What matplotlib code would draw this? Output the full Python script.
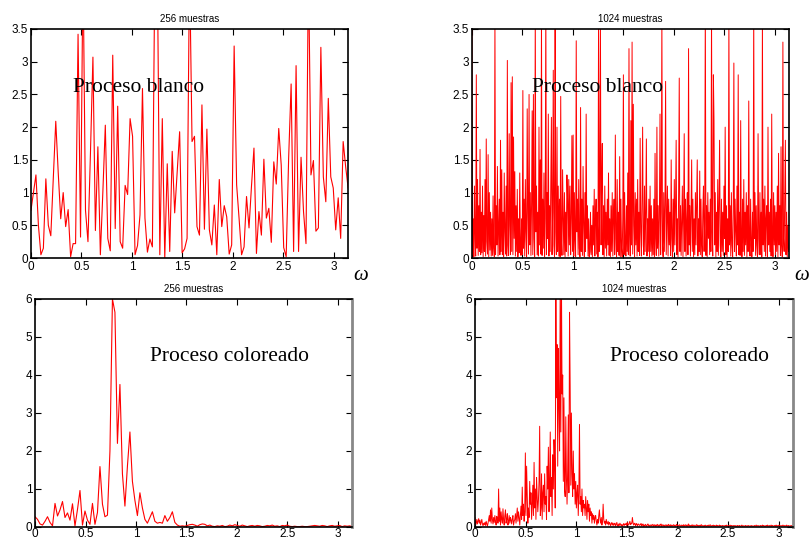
import matplotlib
matplotlib.use("Agg")
import matplotlib.pyplot as plt
from matplotlib.ticker import FuncFormatter
import numpy as np

# Periodogram values (omega from 0 to pi)
white_256 = [
    0.73, 1.0, 1.27, 0.5, 0.05, 0.15, 1.21, 0.5, 0.34, 1.2, 2.09, 1.3, 0.6, 1.0, 0.48, 0.74,
    0.02, 0.22, 0.22, 3.42, 0.32, 4.5, 0.73, 0.25, 1.6, 3.07, 0.42, 1.7, 0.05, 1.0, 2.03, 0.3,
    0.11, 3.1, 0.45, 2.32, 0.25, 0.15, 1.11, 0.97, 2.13, 1.86, 0.05, 0.19, 0.66, 2.59, 0.61, 0.09,
    0.29, 0.17, 4.5, 4.5, 0.05, 2.13, 0.0, 1.44, 0.1, 1.63, 0.69, 1.3, 1.93, 0.08, 0.14, 0.3,
    4.5, 1.78, 1.86, 0.48, 0.35, 2.34, 0.44, 1.97, 0.43, 0.2, 0.81, 0.05, 1.2, 0.48, 0.8, 0.63,
    0.06, 0.2, 3.24, 1.12, 0.6, 0.05, 0.17, 0.94, 0.46, 1.1, 1.68, 0.07, 0.71, 0.35, 1.51, 0.61,
    0.76, 0.24, 1.47, 1.13, 1.98, 1.42, 0.16, 0.02, 1.53, 2.66, 0.1, 2.94, 0.1, 1.54, 0.71, 0.22,
    4.5, 1.27, 1.49, 0.41, 0.46, 3.22, 1.24, 0.86, 2.44, 1.24, 1.07, 0.43, 0.92, 0.3, 1.78, 1.4,
    1.07,
]

white_1024 = [
    3.8, 0.05, 0.6, 0.02, 1.1, 0.3, 0.03, 2.8, 0.15, 1.2, 0.04, 0.8, 0.1, 1.66, 0.05, 0.7,
    0.08, 1.1, 0.02, 0.65, 0.1, 1.2, 0.03, 1.82, 0.25, 0.06, 1.58, 0.02, 1.0, 0.12, 0.7, 0.03,
    0.6, 0.04, 0.95, 0.15, 0.02, 3.7, 0.05, 0.8, 0.2, 1.4, 0.03, 0.5, 0.9, 0.05, 1.8, 0.1,
    1.35, 0.05, 0.7, 0.02, 1.3, 0.4, 0.06, 1.1, 0.03, 3.02, 0.2, 0.04, 1.9, 0.5, 0.05, 2.68,
    0.1, 2.77, 0.05, 1.85, 0.3, 1.32, 0.03, 0.8, 0.1, 1.05, 0.02, 0.6, 0.08, 1.3, 0.2, 0.04,
    0.6, 0.05, 2.56, 0.15, 0.9, 0.03, 1.2, 0.4, 0.02, 2.28, 0.7, 0.06, 2.5, 0.2, 1.0, 0.04,
    0.8, 2.25, 0.05, 2.5, 0.3, 0.02, 3.8, 0.4, 1.1, 0.05, 0.7, 0.03, 2.0, 0.2, 1.5, 0.06,
    3.7, 0.04, 0.9, 0.15, 1.3, 0.02, 0.6, 3.9, 0.05, 1.0, 0.3, 2.2, 0.03, 0.8, 0.1, 1.2,
    2.15, 0.05, 0.7, 2.87, 0.2, 0.02, 4.0, 0.4, 0.05, 2.0, 0.1, 1.1, 0.03, 0.9, 0.02, 2.47,
    0.3, 0.04, 1.35, 0.6, 0.05, 1.0, 0.02, 0.7, 0.1, 1.27, 0.9, 0.03, 1.2, 0.2, 1.1, 0.05,
    0.6, 1.87, 0.1, 1.88, 0.03, 1.0, 0.3, 0.02, 3.32, 0.4, 0.9, 0.05, 1.2, 0.15, 0.02, 2.3,
    0.1, 0.9, 0.04, 1.4, 0.5, 0.02, 1.0, 0.1, 2.2, 0.3, 0.8, 0.03, 0.6, 0.02, 0.1, 0.7,
    0.05, 0.5, 0.02, 0.8, 0.2, 1.05, 0.03, 0.6, 0.9, 0.06, 0.7, 0.02, 3.8, 0.1, 1.0, 3.6,
    0.2, 1.2, 1.75, 0.05, 0.8, 0.02, 1.1, 0.15, 0.7, 0.03, 0.9, 0.2, 1.3, 0.04, 0.6, 0.02,
    0.8, 0.1, 1.0, 0.03, 0.6, 0.9, 0.05, 1.88, 0.3, 0.02, 1.2, 0.1, 0.7, 0.04, 1.55, 0.02,
    0.9, 0.15, 0.02, 0.6, 2.8, 0.05, 1.0, 0.2, 0.03, 0.8, 0.1, 1.3, 0.05, 3.2, 0.4, 0.03,
    2.1, 0.2, 3.3, 0.06, 2.35, 0.5, 0.02, 1.0, 0.2, 0.9, 0.03, 1.2, 0.1, 0.7, 0.04, 1.83,
    0.4, 0.03, 0.9, 2.0, 0.2, 0.05, 1.1, 0.1, 0.7, 1.82, 0.03, 0.6, 0.1, 0.9, 0.02, 1.1,
    0.1, 0.8, 0.03, 0.6, 0.05, 0.9, 0.02, 1.6, 0.3, 0.04, 2.0, 0.15, 0.8, 0.03, 0.6, 2.2,
    0.05, 0.7, 3.7, 0.2, 0.02, 1.0, 0.1, 0.8, 2.7, 0.05, 0.6, 1.1, 0.03, 0.9, 0.2, 0.7,
    0.04, 1.5, 0.3, 0.02, 0.9, 0.1, 1.2, 0.2, 0.8, 1.8, 0.05, 0.6, 0.02, 1.0, 2.75, 0.1,
    0.8, 0.04, 0.6, 1.1, 0.02, 0.7, 1.9, 0.1, 0.9, 0.03, 0.6, 1.0, 0.05, 3.2, 0.2, 0.8,
    0.03, 0.7, 1.5, 0.1, 0.9, 0.02, 0.6, 0.05, 1.0, 0.2, 0.8, 1.5, 0.03, 0.6, 0.1, 1.33,
    0.05, 0.9, 0.2, 0.02, 0.7, 1.1, 0.1, 0.6, 3.9, 0.04, 0.8, 0.02, 1.0, 0.3, 0.7, 0.05,
    0.9, 0.1, 3.8, 0.4, 0.03, 2.8, 2.1, 0.2, 1.0, 0.02, 0.7, 0.1, 1.2, 0.04, 0.8, 1.8,
    0.2, 0.02, 0.9, 0.1, 0.7, 0.04, 1.1, 0.3, 2.0, 0.05, 0.8, 0.02, 0.6, 0.1, 3.7, 0.2,
    0.8, 0.03, 1.0, 0.2, 0.02, 0.7, 2.98, 0.1, 0.9, 0.4, 0.03, 1.1, 0.2, 2.8, 0.05, 0.7,
    0.04, 2.1, 0.3, 0.02, 0.9, 0.1, 1.2, 0.04, 0.7, 0.2, 1.0, 0.02, 0.8, 0.1, 2.4, 0.3,
    0.03, 0.9, 0.2, 0.02, 0.7, 0.1, 3.8, 0.3, 1.0, 0.04, 0.8, 0.2, 0.02, 1.9, 0.3, 0.05,
    1.0, 0.05, 0.7, 0.02, 3.7, 0.2, 0.9, 0.1, 1.1, 0.03, 0.6, 0.8, 0.02, 2.0, 0.2, 0.7,
    0.1, 0.9, 0.03, 2.2, 0.3, 0.02, 1.0, 0.2, 0.8, 0.05, 0.7, 0.1, 1.1, 0.02, 1.6, 0.2,
    0.8, 0.04, 1.7, 0.2, 0.02, 3.3, 0.3, 0.1, 0.9, 1.8, 0.05, 0.7, 0.02, 0.5, 0.1, 0.1,
]

colored_256 = [
    0.27, 0.2, 0.08, 0.05, 0.15, 0.27, 0.12, 0.03, 0.62, 0.29, 0.45, 0.67, 0.25, 0.37, 0.18, 0.61,
    0.03, 0.46, 0.96, 0.05, 0.42, 0.18, 0.07, 0.62, 0.07, 0.38, 1.59, 0.6, 0.27, 0.31, 2.0, 6.0,
    5.65, 2.2, 3.75, 1.4, 0.55, 1.6, 2.5, 1.2, 0.7, 0.3, 0.9, 0.5, 0.2, 0.1, 0.25, 0.4,
    0.15, 0.1, 0.12, 0.1, 0.3, 0.15, 0.25, 0.4, 0.12, 0.05, 0.02, 0.03, 0.02, 0.04, 0.06, 0.07,
    0.05, 0.02, 0.06, 0.08, 0.07, 0.03, 0.05, 0.02, 0.01, 0.03, 0.02, 0.04, 0.01, 0.02, 0.05, 0.03,
    0.06, 0.04, 0.02, 0.05, 0.03, 0.01, 0.03, 0.04, 0.02, 0.04, 0.03, 0.01, 0.02, 0.04, 0.03, 0.05,
    0.02, 0.03, 0.01, 0.04, 0.03, 0.05, 0.02, 0.01, 0.02, 0.01, 0.01, 0.02, 0.01, 0.01, 0.02, 0.03,
    0.04, 0.03, 0.02, 0.04, 0.03, 0.01, 0.03, 0.04, 0.02, 0.03, 0.04, 0.01, 0.03, 0.02, 0.03, 0.01,
]

colored_1024 = [
    0.25, 0.05, 0.1, 0.2, 0.08, 0.15, 0.22, 0.1, 0.18, 0.05, 0.12, 0.2, 0.08, 0.03, 0.1, 0.06,
    0.12, 0.04, 0.15, 0.08, 0.02, 0.1, 0.2, 0.3, 0.15, 0.45, 0.1, 0.5, 0.2, 0.08, 0.25, 0.12,
    0.3, 0.15, 0.05, 0.28, 0.2, 0.1, 1.0, 0.15, 0.5, 0.05, 0.4, 0.2, 0.1, 0.48, 0.18, 0.05,
    0.3, 0.45, 0.1, 0.2, 0.35, 0.05, 0.15, 0.3, 0.1, 0.25, 0.18, 0.08, 0.22, 0.3, 0.05, 0.15,
    0.2, 0.35, 0.1, 0.3, 0.5, 0.15, 0.4, 0.25, 0.05, 0.3, 0.55, 0.2, 1.05, 0.3, 0.6, 0.15,
    0.4, 1.95, 0.3, 1.6, 0.8, 0.1, 0.5, 0.25, 1.2, 0.6, 0.9, 0.2, 0.6, 1.1, 0.3, 1.7,
    0.5, 1.0, 0.2, 1.3, 0.8, 0.4, 0.7, 1.2, 2.65, 0.3, 0.5, 1.4, 0.2, 0.9, 1.1, 0.4,
    1.4, 0.6, 0.8, 0.2, 1.6, 1.0, 2.1, 0.4, 1.2, 2.5, 0.8, 1.3, 0.3, 1.9, 1.0, 2.3,
    1.8, 0.5, 6.5, 3.4, 4.8, 1.6, 4.7, 3.2, 2.0, 6.5, 2.5, 6.5, 3.5, 4.0, 1.2, 3.4,
    1.0, 0.8, 2.9, 1.3, 0.6, 1.5, 2.95, 0.9, 5.65, 3.7, 1.1, 3.0, 1.4, 0.8, 2.0, 1.0,
    1.4, 0.6, 1.2, 0.5, 0.9, 1.1, 0.3, 0.9, 2.7, 0.6, 0.8, 0.4, 1.0, 0.3, 0.7, 0.5,
    0.6, 0.3, 0.8, 0.5, 0.2, 0.7, 0.4, 0.6, 0.15, 0.5, 0.3, 0.4, 0.1, 0.35, 0.2, 0.3,
    0.1, 0.25, 0.3, 0.15, 0.05, 0.2, 0.1, 0.3, 0.45, 0.2, 0.1, 0.25, 0.05, 0.15, 0.6, 0.2,
    0.1, 0.15, 0.05, 0.2, 0.1, 0.08, 0.15, 0.05, 0.12, 0.1, 0.03, 0.08, 0.12, 0.05, 0.1, 0.04,
    0.08, 0.1, 0.03, 0.06, 0.12, 0.05, 0.02, 0.08, 0.04, 0.1, 0.06, 0.03, 0.07, 0.02, 0.05, 0.09,
    0.04, 0.08, 0.06, 0.1, 0.03, 0.12, 0.07, 0.05, 0.1, 0.15, 0.06, 0.1, 0.08, 0.25, 0.12, 0.05,
    0.08, 0.1, 0.04, 0.07, 0.09, 0.03, 0.06, 0.08, 0.05, 0.04, 0.07, 0.09, 0.03, 0.05, 0.08, 0.02,
    0.05, 0.03, 0.07, 0.04, 0.02, 0.06, 0.08, 0.03, 0.05, 0.02, 0.04, 0.06, 0.03, 0.05, 0.07, 0.02,
    0.04, 0.06, 0.02, 0.05, 0.03, 0.07, 0.04, 0.02, 0.06, 0.03, 0.05, 0.08, 0.02, 0.04, 0.06, 0.03,
    0.05, 0.02, 0.04, 0.06, 0.03, 0.05, 0.02, 0.07, 0.04, 0.03, 0.06, 0.02, 0.05, 0.03, 0.04, 0.06,
    0.03, 0.05, 0.02, 0.04, 0.07, 0.03, 0.05, 0.02, 0.04, 0.06, 0.03, 0.02, 0.05, 0.04, 0.03, 0.06,
    0.02, 0.04, 0.06, 0.03, 0.05, 0.02, 0.04, 0.08, 0.03, 0.05, 0.02, 0.04, 0.03, 0.06, 0.02, 0.04,
    0.05, 0.03, 0.02, 0.04, 0.06, 0.03, 0.05, 0.02, 0.04, 0.03, 0.05, 0.02, 0.06, 0.04, 0.03, 0.02,
    0.04, 0.02, 0.05, 0.03, 0.02, 0.04, 0.03, 0.05, 0.02, 0.04, 0.06, 0.03, 0.02, 0.04, 0.03, 0.05,
    0.02, 0.04, 0.03, 0.02, 0.05, 0.03, 0.04, 0.02, 0.03, 0.05, 0.02, 0.04, 0.03, 0.02, 0.04, 0.03,
    0.03, 0.02, 0.04, 0.03, 0.05, 0.02, 0.03, 0.04, 0.02, 0.03, 0.05, 0.02, 0.04, 0.03, 0.02, 0.04,
    0.02, 0.03, 0.04, 0.02, 0.03, 0.02, 0.04, 0.03, 0.02, 0.04, 0.03, 0.02, 0.03, 0.05, 0.02, 0.03,
    0.03, 0.02, 0.03, 0.04, 0.02, 0.03, 0.02, 0.04, 0.03, 0.02, 0.03, 0.02, 0.04, 0.02, 0.03, 0.02,
    0.02, 0.04, 0.02, 0.03, 0.05, 0.02, 0.03, 0.04, 0.02, 0.03, 0.02, 0.04, 0.03, 0.02, 0.05, 0.03,
    0.04, 0.02, 0.03, 0.02, 0.04, 0.03, 0.05, 0.02, 0.03, 0.04, 0.02, 0.03, 0.05, 0.02, 0.04, 0.03,
    0.02, 0.03, 0.04, 0.02, 0.05, 0.03, 0.02, 0.04, 0.03, 0.05, 0.02, 0.03, 0.04, 0.02, 0.03, 0.05,
    0.03, 0.02, 0.04, 0.03, 0.02, 0.05, 0.03, 0.02, 0.04, 0.02, 0.03, 0.02, 0.04, 0.03, 0.02, 0.03,
]

titles = ["256 muestras", "1024 muestras", "256 muestras", "1024 muestras"]
labels = ["Proceso blanco", "Proceso blanco", "Proceso coloreado", "Proceso coloreado"]


def fmt(v, pos):
    return "%g" % v


fig = plt.figure(figsize=(8.09, 5.39), dpi=100)

boxes = [
    [0.0383, 0.5213, 0.392, 0.4249],
    [0.5834, 0.5213, 0.392, 0.4249],
    [0.0433, 0.0223, 0.392, 0.423],
    [0.5871, 0.0223, 0.393, 0.423],
]
series = [white_256, white_1024, colored_256, colored_1024]
ylims = [3.5, 3.5, 6, 6]
text_pos = [(0.416, 2.53), (0.595, 2.53), (1.14, 4.37), (1.33, 4.37)]

for k in range(4):
    ax = fig.add_axes(boxes[k])
    y = np.array(series[k])
    w = np.linspace(0, np.pi, len(y))
    ax.plot(w, y, color="red", linewidth=0.8 if k % 2 == 0 else 0.7)
    ax.set_xlim(0, np.pi)
    ax.set_ylim(0, ylims[k])
    ax.set_xticks([0, 0.5, 1, 1.5, 2, 2.5, 3])
    if ylims[k] == 3.5:
        ax.set_yticks([0, 0.5, 1, 1.5, 2, 2.5, 3, 3.5])
    else:
        ax.set_yticks([0, 1, 2, 3, 4, 5, 6])
    ax.xaxis.set_major_formatter(FuncFormatter(fmt))
    ax.yaxis.set_major_formatter(FuncFormatter(fmt))
    ax.tick_params(direction="in", top=True, right=True, length=4,
                   labelsize=8.5, pad=2)
    if k >= 2:
        ax.tick_params(axis="x", pad=1)
    for sp in ax.spines.values():
        sp.set_linewidth(1.2)
    if k >= 2:
        ax.spines["right"].set_color("#888888")
        ax.spines["right"].set_linewidth(2)
    ax.set_title(titles[k], fontsize=7, pad=5, family="Liberation Sans")
    ax.text(text_pos[k][0], text_pos[k][1], labels[k], fontsize=15.5,
            family="Liberation Serif", va="baseline", ha="left")
    if k < 2:
        ax.text(1.04, -0.035, "ω", transform=ax.transAxes, fontsize=15,
                family="Liberation Serif", style="italic", va="top", ha="center")
    for lab in ax.get_xticklabels() + ax.get_yticklabels():
        lab.set_family("Liberation Sans")

fig.savefig("out.png", dpi=100)
